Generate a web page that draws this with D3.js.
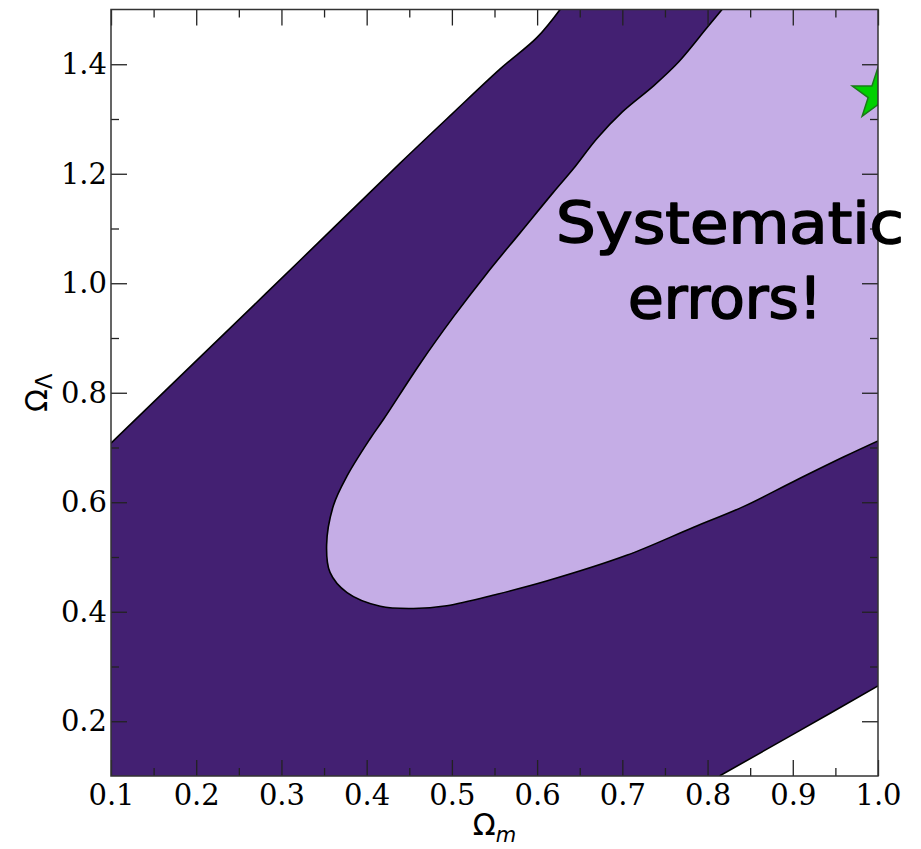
<!DOCTYPE html>
<html><head><meta charset="utf-8">
<script src="https://cdn.jsdelivr.net/npm/d3@7"></script>
<style>html,body{margin:0;padding:0;background:#fff;} svg{display:block}</style>
</head><body>
<svg id="chart" width="921" height="849"></svg>
<script>
// ---------------- data ----------------
const xTickValues = [0.1,0.2,0.3,0.4,0.5,0.6,0.7,0.8,0.9,1.0];
const xTickLabels = ["0.1","0.2","0.3","0.4","0.5","0.6","0.7","0.8","0.9","1.0"];
const xMinorTicks = [0.15,0.25,0.35,0.45,0.55,0.65,0.75,0.85,0.95];
const yTickValues = [0.2,0.4,0.6,0.8,1.0,1.2,1.4];
const yTickLabels = ["0.2","0.4","0.6","0.8","1.0","1.2","1.4"];
const yMinorTicks = [0.3,0.5,0.7,0.9,1.1,1.3];
const xDomain = [0.1, 1.0];
const yDomain = [0.1, 1.5];

// outer (2-sigma) contour: upper-left boundary
const outerUpper = [[0.100,0.708],[0.2045,0.865],[0.322,1.042],[0.439,1.219],[0.500,1.309],
  [0.557,1.392],[0.600,1.449],[0.627,1.500]];
// outer (2-sigma) contour: lower-right boundary
const outerLower = [[0.814,0.100],[0.907,0.182],[1.000,0.2645]];
// inner (1-sigma) contour
const innerBoundary = [[0.817,1.500],[0.799,1.466],[0.766,1.404],[0.737,1.361],[0.700,1.313],
  [0.670,1.264],[0.643,1.210],[0.619,1.166],[0.580,1.092],[0.541,1.018],[0.502,0.939],
  [0.463,0.854],[0.420,0.752],[0.404,0.716],[0.377,0.648],[0.361,0.594],[0.353,0.522],
  [0.357,0.472],[0.377,0.435],[0.416,0.410],[0.455,0.406],[0.494,0.411],[0.553,0.432],
  [0.611,0.456],[0.705,0.503],[0.783,0.554],[0.842,0.592],[0.901,0.638],[0.960,0.683],[1.000,0.712]];
const bestFit = [[1.0, 1.345]];
const annotationLines = ["Systematic", "errors!"];
const xLabelMain = "Ω", xLabelSub = "m";
const yLabelMain = "Ω", yLabelSub = "Λ";

// ---------------- styles ----------------
const darkColor = "#432072";
const lightColor = "#c5ade6";
const L = 111, R = 878, T = 9.5, B = 776;

const svg = d3.select("#chart");
const x = d3.scaleLinear().domain(xDomain).range([L, R]);
const y = d3.scaleLinear().domain(yDomain).range([B, T]);

svg.append("defs").append("clipPath").attr("id","plotclip")
  .append("rect").attr("x",L).attr("y",T).attr("width",R-L).attr("height",B-T);

const plot = svg.append("g").attr("clip-path","url(#plotclip)");
const curve = d3.line().x(d=>x(d[0])).y(d=>y(d[1])).curve(d3.curveCatmullRom.alpha(0.5));
const straight = d3.line().x(d=>x(d[0])).y(d=>y(d[1]));
const cont = s => "L" + s.slice(1);

// dark region
const darkPath = curve(outerUpper)
  + cont(straight([[xDomain[1], yDomain[1]], [xDomain[1], outerLower[outerLower.length-1][1]]]))
  + cont(curve(outerLower.slice().reverse()))
  + cont(straight([[xDomain[0], yDomain[0]]])) + "Z";
plot.append("path").attr("d", darkPath).attr("fill", darkColor).attr("stroke","none");

// light region
const lightPath = curve(innerBoundary)
  + cont(straight([[xDomain[1], yDomain[1]]])) + "Z";
plot.append("path").attr("d", lightPath).attr("fill", lightColor).attr("stroke","none");

[outerUpper, outerLower, innerBoundary].forEach(b => {
  plot.append("path").attr("d", curve(b)).attr("fill","none")
    .attr("stroke","#000").attr("stroke-width",1.6);
});

// best-fit star
plot.selectAll("path.star").data(bestFit).join("path").attr("class","star")
  .attr("d", d3.symbol(d3.symbolStar, 820)())
  .attr("transform", d => `translate(${x(d[0])},${y(d[1])})`)
  .attr("fill","#00d000").attr("stroke","#1a7a1a").attr("stroke-width",1.5);

// ---------------- axes ----------------
const tickFont = "'DejaVu Serif', serif";
function styleAxis(g){
  g.select(".domain").remove();
  g.selectAll(".tick line").attr("stroke","#222").attr("stroke-width",1.3);
  g.selectAll(".tick text").attr("font-family",tickFont).attr("font-size",29).attr("fill","#000");
}
svg.append("g").attr("transform",`translate(0,${B})`)
  .call(d3.axisBottom(x).tickValues(xTickValues).tickFormat((d,i)=>xTickLabels[i]).tickSizeInner(-16).tickSizeOuter(0).tickPadding(8))
  .call(styleAxis);
svg.append("g").attr("transform",`translate(0,${B})`)
  .call(d3.axisBottom(x).tickValues(xMinorTicks).tickFormat("").tickSizeInner(-8).tickSizeOuter(0)).call(styleAxis);
svg.append("g").attr("transform",`translate(0,${T})`)
  .call(d3.axisTop(x).tickValues(xTickValues).tickFormat("").tickSizeInner(-16).tickSizeOuter(0)).call(styleAxis);
svg.append("g").attr("transform",`translate(0,${T})`)
  .call(d3.axisTop(x).tickValues(xMinorTicks).tickFormat("").tickSizeInner(-8).tickSizeOuter(0)).call(styleAxis);
svg.append("g").attr("transform",`translate(${L},0)`)
  .call(d3.axisLeft(y).tickValues(yTickValues).tickFormat((d,i)=>yTickLabels[i]).tickSizeInner(-16).tickSizeOuter(0).tickPadding(4))
  .call(styleAxis);
svg.append("g").attr("transform",`translate(${L},0)`)
  .call(d3.axisLeft(y).tickValues(yMinorTicks).tickFormat("").tickSizeInner(-8).tickSizeOuter(0)).call(styleAxis);
svg.append("g").attr("transform",`translate(${R},0)`)
  .call(d3.axisRight(y).tickValues(yTickValues).tickFormat("").tickSizeInner(-16).tickSizeOuter(0)).call(styleAxis);
svg.append("g").attr("transform",`translate(${R},0)`)
  .call(d3.axisRight(y).tickValues(yMinorTicks).tickFormat("").tickSizeInner(-8).tickSizeOuter(0)).call(styleAxis);

svg.append("rect").attr("x",L).attr("y",T).attr("width",R-L).attr("height",B-T)
  .attr("fill","none").attr("stroke","#333").attr("stroke-width",1.5);

// axis titles
const xt = svg.append("text").attr("x",(L+R)/2).attr("y",835).attr("text-anchor","middle")
  .attr("font-family","'DejaVu Sans', sans-serif").attr("font-size",30).attr("fill","#000");
xt.append("tspan").text(xLabelMain);
xt.append("tspan").text(xLabelSub).attr("font-style","italic").attr("font-size",21).attr("dy",7);

const yt = svg.append("text").attr("transform",`translate(47,${(T+B)/2}) rotate(-90)`).attr("text-anchor","middle")
  .attr("font-family","'DejaVu Sans', sans-serif").attr("font-size",30).attr("fill","#000");
yt.append("tspan").text(yLabelMain);
yt.append("tspan").text(yLabelSub).attr("font-size",23).attr("dy",5);

// annotation
const ann = svg.append("g").attr("font-family","'DejaVu Sans', sans-serif")
  .attr("font-size",57).attr("fill","#000").attr("stroke","#000").attr("stroke-width",1.6)
  .attr("stroke-linejoin","round").attr("text-anchor","middle");
ann.append("text").attr("x",730).attr("y",243).attr("textLength",348).attr("lengthAdjust","spacingAndGlyphs").text(annotationLines[0]);
ann.append("text").attr("x",725).attr("y",318).attr("textLength",194).attr("lengthAdjust","spacingAndGlyphs").text(annotationLines[1]);
</script>
</body></html>
